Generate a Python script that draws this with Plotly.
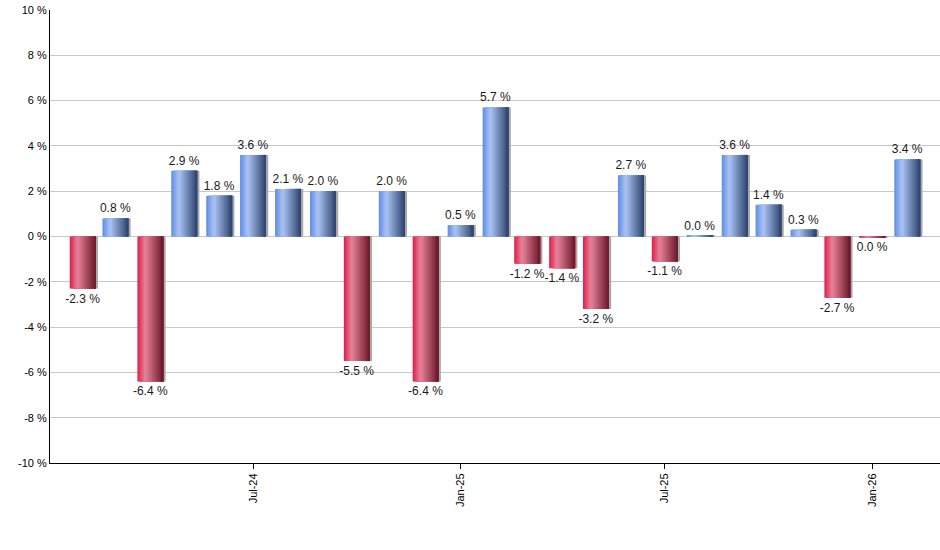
import plotly.graph_objects as go

# monthly returns, Feb-24 .. Feb-26
months = ["2024-02-01", "2024-03-01", "2024-04-01", "2024-05-01", "2024-06-01",
          "2024-07-01", "2024-08-01", "2024-09-01", "2024-10-01", "2024-11-01",
          "2024-12-01", "2025-01-01", "2025-02-01", "2025-03-01", "2025-04-01",
          "2025-05-01", "2025-06-01", "2025-07-01", "2025-08-01", "2025-09-01",
          "2025-10-01", "2025-11-01", "2025-12-01", "2026-01-01", "2026-02-01"]
returns = [-2.3, 0.8, -6.4, 2.9, 1.8, 3.6, 2.1, 2.0, -5.5, 2.0, -6.4, 0.5, 5.7,
           -1.2, -1.4, -3.2, 2.7, -1.1, 0.04, 3.6, 1.4, 0.3, -2.7, -0.04, 3.4]
y_ticks = [-10, -8, -6, -4, -2, 0, 2, 4, 6, 8, 10]
y_tick_text = [f"{v} %" for v in y_ticks]

labels = []
for v in returns:
    s = f"{v:.1f}"
    if s == "-0.0":
        s = "0.0"
    labels.append(s + " %")

DAY = 86400000
bar_w = 23 * DAY
n_strips = 16


def hex2rgb(h):
    h = h.lstrip("#")
    return [int(h[i:i + 2], 16) for i in (0, 2, 4)]


def grad(stops, t):
    for (t0, c0), (t1, c1) in zip(stops, stops[1:]):
        if t0 <= t <= t1:
            f = (t - t0) / (t1 - t0)
            a, b = hex2rgb(c0), hex2rgb(c1)
            return "rgb({},{},{})".format(*[round(a[k] + (b[k] - a[k]) * f) for k in range(3)])
    return stops[-1][1]


blue = [(0, "#5f8be6"), (0.3, "#abc4f4"), (1.0, "#2c426d")]
red = [(0, "#dc1f48"), (0.3, "#e8839a"), (1.0, "#6b1729")]

fig = go.Figure()

# shadow on right side
fig.add_trace(go.Bar(x=months, y=returns, width=2 * DAY, offset=bar_w / 2,
                     marker=dict(color="#a8a8a8", line_width=0), hoverinfo="skip"))

# gradient: each strip runs to the right edge, later strips cover earlier ones
for i in range(n_strips):
    t = (i + 0.5) / n_strips
    cols = [grad(blue, t) if v >= 0 else grad(red, t) for v in returns]
    fig.add_trace(go.Bar(
        x=months, y=returns,
        width=bar_w - i * bar_w / n_strips,
        offset=-bar_w / 2 + i * bar_w / n_strips,
        marker=dict(color=cols, line_width=0),
        hoverinfo="skip",
    ))

# labels
fig.add_trace(go.Bar(
    x=months, y=returns, width=bar_w,
    marker=dict(color="rgba(0,0,0,0)", line_width=0),
    text=labels, textposition="outside", constraintext="none", cliponaxis=False,
    textfont=dict(family="Arial, Liberation Sans", size=12, color="#1a1a1a"),
))

fig.update_layout(
    width=940, height=550,
    margin=dict(l=50, r=0, t=10, b=87),
    barmode="overlay",
    showlegend=False,
    plot_bgcolor="white", paper_bgcolor="white",
    font=dict(family="Arial, Liberation Sans", size=11, color="#000000"),
)
fig.update_xaxes(
    type="date", range=["2024-01-03", "2026-03-02"],
    tick0="2024-07-01", dtick="M6", tickformat="%b-%y", tickangle=-90,
    ticks="outside", ticklen=5, tickcolor="black",
    showline=True, linecolor="black", linewidth=1, showgrid=False,
    tickfont=dict(size=11), automargin=False,
)
fig.update_yaxes(
    range=[-10, 10], tickvals=y_ticks, ticktext=y_tick_text,
    showgrid=True, gridcolor="#c8c8c8", gridwidth=1,
    zeroline=True, zerolinecolor="#c8c8c8", zerolinewidth=1,
    showline=True, linecolor="black", linewidth=1, ticks="",
    tickfont=dict(size=11), automargin=False,
)

# drop the default 8px page margin so the chart sits at the window corner
fig.write_html("out.html", config={"displayModeBar": False},
               post_script="document.body.style.margin='0';")
